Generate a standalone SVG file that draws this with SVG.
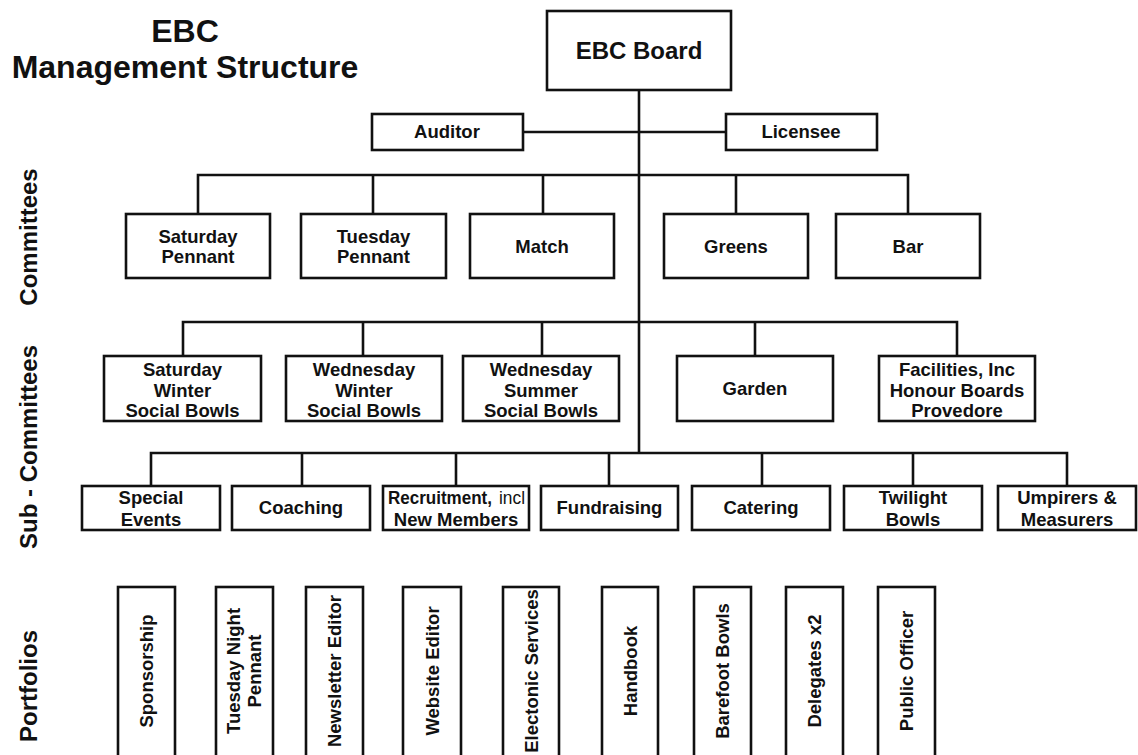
<svg xmlns="http://www.w3.org/2000/svg" width="1138" height="755" viewBox="0 0 1138 755">
<style>
.box{fill:#fff;stroke:#111;stroke-width:2.6}
.ln{fill:none;stroke:#111;stroke-width:2.6}
text{font-family:"Liberation Sans",Arial,sans-serif;font-weight:bold;fill:#111;text-anchor:middle}
.t{font-size:18.5px}
.side{font-size:24px}
.title{font-size:32px}
.reg{font-weight:normal}
.st{text-anchor:start}
</style>
<rect width="1138" height="755" fill="#fff"/>
<g id="title">
<text class="title" x="185" y="42">EBC</text>
<text class="title" x="185" y="78">Management Structure</text>
</g>
<g id="side-labels">
<text class="side" transform="translate(37,237) rotate(-90)">Committees</text>
<text class="side" transform="translate(37,447) rotate(-90)">Sub - Committees</text>
<text class="side" transform="translate(37,686) rotate(-90)">Portfolios</text>
</g>
<g id="connectors">
<path class="ln" d="M639,90 V453"/>
<path class="ln" d="M523,132 H726"/>
<path class="ln" d="M198,214 V175 H908 V214 M373,175 V214 M543,175 V214 M736,175 V214"/>
<path class="ln" d="M183,356 V322 H957 V356 M363,322 V356 M542,322 V356 M755,322 V356"/>
<path class="ln" d="M151,486 V453 H1067 V486 M302,453 V486 M456,453 V486 M609,453 V486 M762,453 V486 M913,453 V486"/>
</g>
<g id="ebc-board"><rect class="box" x="547" y="11" width="184" height="79"/><text x="639" y="59" style="font-size:24px">EBC Board</text></g>
<g id="auditor"><rect class="box" x="372" y="114" width="151" height="36"/><text class="t" x="447" y="138">Auditor</text></g>
<g id="licensee"><rect class="box" x="726" y="114" width="151" height="36"/><text class="t" x="801" y="138">Licensee</text></g>

<g id="saturday-pennant"><rect class="box" x="126" y="214" width="144" height="64"/><text class="t" x="198" y="243">Saturday</text><text class="t" x="198" y="263">Pennant</text></g>
<g id="tuesday-pennant"><rect class="box" x="301" y="214" width="145" height="64"/><text class="t" x="373.5" y="243">Tuesday</text><text class="t" x="373.5" y="263">Pennant</text></g>
<g id="match"><rect class="box" x="470" y="214" width="144" height="64"/><text class="t" x="542" y="253">Match</text></g>
<g id="greens"><rect class="box" x="664" y="214" width="144" height="64"/><text class="t" x="736" y="253">Greens</text></g>
<g id="bar"><rect class="box" x="836" y="214" width="144" height="64"/><text class="t" x="908" y="253">Bar</text></g>

<g id="saturday-winter"><rect class="box" x="104" y="356" width="157" height="65"/><text class="t" x="182.5" y="376">Saturday</text><text class="t" x="182.5" y="396.5">Winter</text><text class="t" x="182.5" y="416.5">Social Bowls</text></g>
<g id="wednesday-winter"><rect class="box" x="286" y="356" width="156" height="65"/><text class="t" x="364" y="376">Wednesday</text><text class="t" x="364" y="396.5">Winter</text><text class="t" x="364" y="416.5">Social Bowls</text></g>
<g id="wednesday-summer"><rect class="box" x="463" y="356" width="156" height="65"/><text class="t" x="541" y="376">Wednesday</text><text class="t" x="541" y="396.5">Summer</text><text class="t" x="541" y="416.5">Social Bowls</text></g>
<g id="garden"><rect class="box" x="677" y="356" width="156" height="65"/><text class="t" x="755" y="395">Garden</text></g>
<g id="facilities"><rect class="box" x="879" y="356" width="156" height="65"/><text class="t" x="957" y="376">Facilities, Inc</text><text class="t" x="957" y="396.5">Honour Boards</text><text class="t" x="957" y="416.5">Provedore</text></g>

<g id="special-events"><rect class="box" x="82" y="486" width="138" height="44"/><text class="t" x="151" y="504">Special</text><text class="t" x="151" y="525.5">Events</text></g>
<g id="coaching"><rect class="box" x="232" y="486" width="138" height="44"/><text class="t" x="301" y="514">Coaching</text></g>
<g id="recruitment"><rect class="box" x="383" y="486" width="146" height="44"/><text class="t st" x="388" y="504" textLength="104" lengthAdjust="spacingAndGlyphs">Recruitment,</text><text class="t st reg" x="499" y="504" textLength="26" lengthAdjust="spacingAndGlyphs">incl</text><text class="t" x="456" y="525.5">New Members</text></g>
<g id="fundraising"><rect class="box" x="541" y="486" width="137" height="44"/><text class="t" x="609.5" y="514">Fundraising</text></g>
<g id="catering"><rect class="box" x="692" y="486" width="138" height="44"/><text class="t" x="761" y="514">Catering</text></g>
<g id="twilight"><rect class="box" x="844" y="486" width="138" height="44"/><text class="t" x="913" y="504">Twilight</text><text class="t" x="913" y="525.5">Bowls</text></g>
<g id="umpirers"><rect class="box" x="998" y="486" width="138" height="44"/><text class="t" x="1067" y="504">Umpirers &amp;</text><text class="t" x="1067" y="525.5">Measurers</text></g>

<g id="sponsorship"><rect class="box" x="118" y="587" width="57" height="190"/><text class="t" transform="translate(153,671) rotate(-90)">Sponsorship</text></g>
<g id="tuesday-night-pennant"><rect class="box" x="216" y="587" width="57" height="190"/><text class="t" transform="translate(244,671) rotate(-90)"><tspan x="0" y="-4">Tuesday Night</tspan><tspan x="0" y="17">Pennant</tspan></text></g>
<g id="newsletter-editor"><rect class="box" x="306" y="587" width="57" height="190"/><text class="t" transform="translate(341,671) rotate(-90)">Newsletter Editor</text></g>
<g id="website-editor"><rect class="box" x="403" y="587" width="58" height="190"/><text class="t" transform="translate(438.5,671) rotate(-90)">Website Editor</text></g>
<g id="electonic-services"><rect class="box" x="503" y="587" width="56" height="190"/><text class="t" transform="translate(537.5,671) rotate(-90)">Electonic Services</text></g>
<g id="handbook"><rect class="box" x="602" y="587" width="56" height="190"/><text class="t" transform="translate(636.5,671) rotate(-90)">Handbook</text></g>
<g id="barefoot-bowls"><rect class="box" x="694" y="587" width="57" height="190"/><text class="t" transform="translate(729,671) rotate(-90)">Barefoot Bowls</text></g>
<g id="delegates"><rect class="box" x="786" y="587" width="57" height="190"/><text class="t" transform="translate(821,671) rotate(-90)">Delegates x2</text></g>
<g id="public-officer"><rect class="box" x="878" y="587" width="57" height="190"/><text class="t" transform="translate(913,671) rotate(-90)">Public Officer</text></g>
</svg>
